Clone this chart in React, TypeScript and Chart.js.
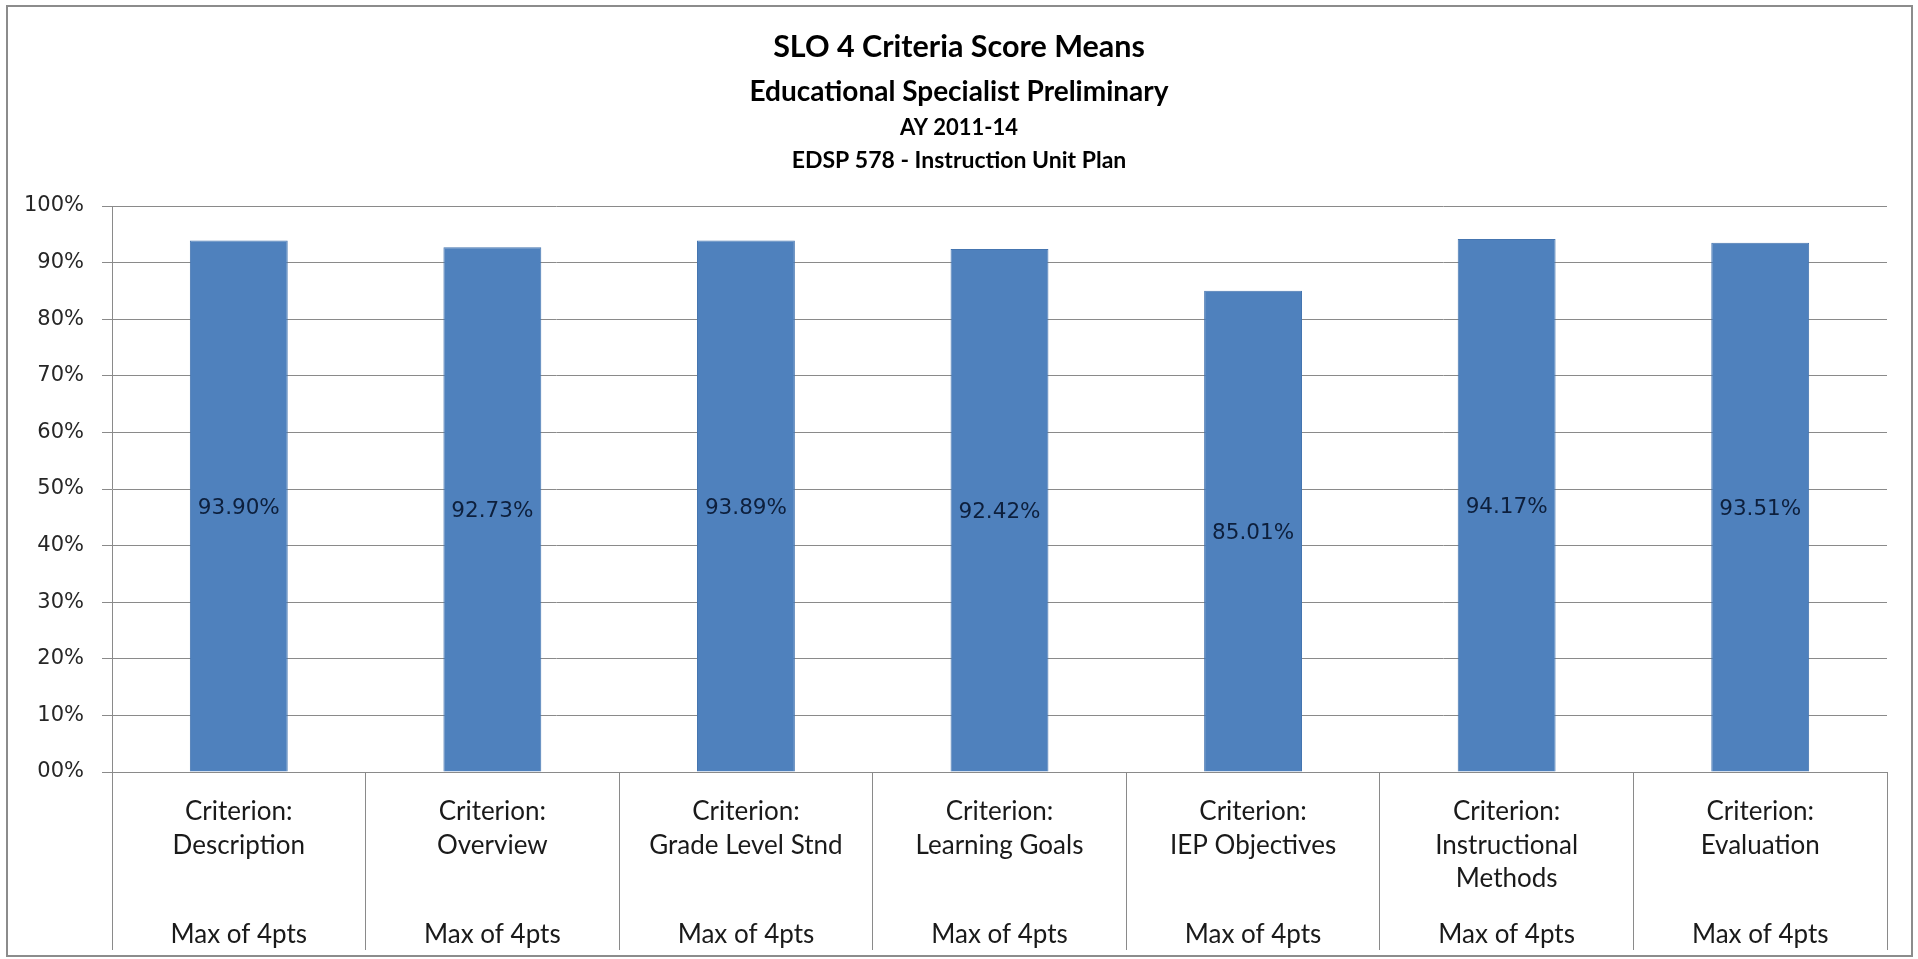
import React, { useEffect, useRef } from "react";
import { Chart, registerables } from "chart.js";

Chart.register(...registerables);

const titleLines = [
  "SLO 4 Criteria Score Means",
  "Educational Specialist Preliminary",
  "AY 2011-14",
  "EDSP 578 - Instruction Unit Plan",
];
const categories = [
  "Description",
  "Overview",
  "Grade Level Stnd",
  "Learning Goals",
  "IEP Objectives",
  "Instructional Methods",
  "Evaluation",
];
const categoryLines = [
  ["Criterion:", "Description"],
  ["Criterion:", "Overview"],
  ["Criterion:", "Grade Level Stnd"],
  ["Criterion:", "Learning Goals"],
  ["Criterion:", "IEP Objectives"],
  ["Criterion:", "Instructional", "Methods"],
  ["Criterion:", "Evaluation"],
];
const maxLabels = [
  "Max of 4pts",
  "Max of 4pts",
  "Max of 4pts",
  "Max of 4pts",
  "Max of 4pts",
  "Max of 4pts",
  "Max of 4pts",
];
const scoreMeans = [93.9, 92.73, 93.89, 92.42, 85.01, 94.17, 93.51];
const yTicks = [0, 10, 20, 30, 40, 50, 60, 70, 80, 90, 100];

const GRID = "#8a8a8a";

const framePlugin = {
  id: "frame",
  beforeDraw(chart: any) {
    const ctx = chart.ctx;
    ctx.save();
    ctx.fillStyle = "#ffffff";
    ctx.fillRect(0, 0, chart.width, chart.height);
    ctx.strokeStyle = "#8c8c8c";
    ctx.lineWidth = 2;
    ctx.strokeRect(7, 6, chart.width - 13, chart.height - 9);
    ctx.restore();
  },
};

const titlePlugin = {
  id: "multiTitle",
  afterDraw(chart: any) {
    const ctx = chart.ctx;
    const cx = chart.width / 2;
    const specs = [
      { size: 30.5, base: 57 },
      { size: 28, base: 101 },
      { size: 22, base: 135 },
      { size: 23, base: 168 },
    ];
    ctx.save();
    ctx.fillStyle = "#000000";
    ctx.textAlign = "center";
    ctx.textBaseline = "alphabetic";
    titleLines.forEach((t, i) => {
      ctx.font = `bold ${specs[i].size}px Lato, "Open Sans", sans-serif`;
      ctx.fillText(t, cx, specs[i].base);
    });
    ctx.restore();
  },
};

const categoryLabelPlugin = {
  id: "categoryLabels",
  afterDraw(chart: any) {
    const ctx = chart.ctx;
    const xs = chart.scales.x;
    const bottom = chart.chartArea.bottom;
    ctx.save();
    ctx.fillStyle = "#1a1a1a";
    ctx.textAlign = "center";
    ctx.textBaseline = "middle";
    ctx.font = `26px Lato, "Open Sans", sans-serif`;
    categories.forEach((_, i) => {
      const x = xs.getPixelForValue(i);
      categoryLines[i].forEach((line, j) => {
        ctx.fillText(line, x, bottom + 40 + j * 33.5);
      });
      ctx.fillText(maxLabels[i], x, bottom + 163);
    });
    ctx.restore();
  },
};

const valueLabelPlugin = {
  id: "valueLabels",
  afterDatasetsDraw(chart: any) {
    const ctx = chart.ctx;
    const meta = chart.getDatasetMeta(0);
    ctx.save();
    ctx.fillStyle = "#0d1f3c";
    ctx.textAlign = "center";
    ctx.textBaseline = "middle";
    ctx.font = `21.5px "DejaVu Sans", sans-serif`;
    meta.data.forEach((bar: any, i: number) => {
      const { x, y, base } = bar.getProps(["x", "y", "base"], true);
      ctx.fillText(scoreMeans[i].toFixed(2) + "%", x, (y + base) / 2 + 2);
    });
    ctx.restore();
  },
};

export default function App() {
  const ref = useRef<HTMLCanvasElement | null>(null);

  useEffect(() => {
    if (!ref.current) return;
    const chart = new Chart(ref.current, {
      type: "bar",
      data: {
        labels: categories,
        datasets: [
          {
            data: scoreMeans,
            backgroundColor: "#4f81bd",
            borderColor: "#4575b0",
            borderWidth: 1,
            barPercentage: 0.386,
            categoryPercentage: 1,
          },
        ],
      },
      options: {
        responsive: false,
        animation: false,
        layout: { padding: { top: 206, left: 0, right: 31, bottom: 9 } },
        plugins: {
          legend: { display: false },
          title: { display: false },
          tooltip: { enabled: false },
        },
        scales: {
          x: {
            type: "category",
            offset: true,
            grid: {
              display: true,
              offset: true,
              drawOnChartArea: false,
              drawTicks: true,
              tickLength: 178,
              color: GRID,
              lineWidth: 1,
            },
            border: { display: true, color: GRID, width: 1 },
            ticks: { display: false },
            afterFit(scale: any) {
              scale.height = 178;
            },
          },
          y: {
            min: 0,
            max: 100,
            afterBuildTicks(scale: any) {
              scale.ticks = yTicks.map((v) => ({ value: v }));
            },
            grid: {
              color: GRID,
              lineWidth: 1,
              drawTicks: true,
              tickLength: 10,
            },
            border: { display: true, color: GRID, width: 1 },
            ticks: {
              padding: 18,
              color: "#262626",
              font: { family: '"DejaVu Sans", sans-serif', size: 21 },
              callback: (v: any) => (Number(v) === 0 ? "00%" : `${v}%`),
            },
            afterFit(scale: any) {
              scale.width = 112;
            },
          },
        },
      },
      plugins: [framePlugin, titlePlugin, categoryLabelPlugin, valueLabelPlugin],
    });
    return () => chart.destroy();
  }, []);

  return (
    <div style={{ position: "fixed", left: 0, top: 0, width: 1918, height: 959, background: "#fff" }}>
      <canvas ref={ref} width={1918} height={959} style={{ display: "block" }} />
    </div>
  );
}
